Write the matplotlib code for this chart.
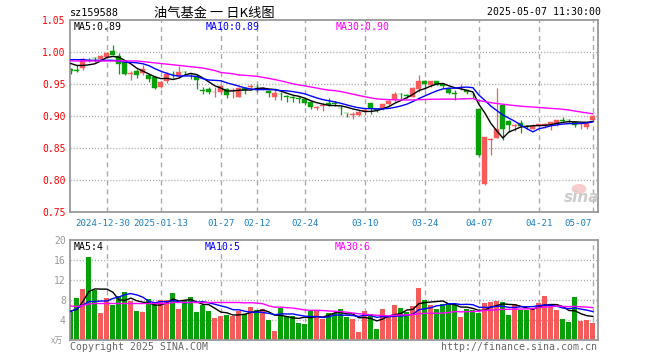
import numpy as np
import matplotlib
matplotlib.use('Agg')
import matplotlib.pyplot as plt
from matplotlib.patches import Ellipse

plt.rcParams['font.family'] = ['DejaVu Sans Mono', 'Noto Sans CJK SC']

# daily candles, 2024-12-20 .. 2025-05-07
opens = [0.974, 0.972, 0.975, 0.988, 0.991, 0.989, 0.992, 1.002, 0.994, 0.984,
         0.966, 0.971, 0.967, 0.964, 0.961, 0.945, 0.954, 0.966, 0.963, 0.969,
         0.966, 0.963, 0.940, 0.942, 0.937, 0.938, 0.942, 0.939, 0.930, 0.943,
         0.946, 0.946, 0.942, 0.939, 0.929, 0.935, 0.932, 0.929, 0.928, 0.926,
         0.922, 0.913, 0.916, 0.921, 0.920, 0.913, 0.905, 0.902, 0.902, 0.908,
         0.921, 0.911, 0.913, 0.918, 0.925, 0.935, 0.933, 0.930, 0.942, 0.955,
         0.949, 0.954, 0.950, 0.942, 0.936, 0.944, 0.940, 0.935, 0.911, 0.794,
         0.862, 0.866, 0.917, 0.892, 0.885, 0.889, 0.884, 0.880, 0.886, 0.884,
         0.886, 0.888, 0.893, 0.894, 0.891, 0.887, 0.883, 0.894]
highs = [0.975, 0.980, 0.990, 0.990, 0.992, 0.996, 1.000, 1.011, 0.998, 0.985,
         0.970, 0.973, 0.980, 0.966, 0.963, 0.955, 0.968, 0.971, 0.978, 0.971,
         0.967, 0.966, 0.946, 0.946, 0.946, 0.949, 0.944, 0.943, 0.946, 0.946,
         0.950, 0.950, 0.945, 0.940, 0.944, 0.938, 0.933, 0.931, 0.930, 0.930,
         0.924, 0.916, 0.921, 0.928, 0.923, 0.915, 0.905, 0.907, 0.910, 0.912,
         0.921, 0.913, 0.918, 0.926, 0.938, 0.936, 0.935, 0.945, 0.964, 0.957,
         0.955, 0.955, 0.951, 0.944, 0.940, 0.950, 0.941, 0.938, 0.911, 0.867,
         0.865, 0.943, 0.917, 0.893, 0.887, 0.894, 0.886, 0.887, 0.888, 0.889,
         0.891, 0.894, 0.899, 0.895, 0.892, 0.889, 0.892, 0.901]
lows = [0.965, 0.969, 0.972, 0.985, 0.985, 0.988, 0.991, 0.995, 0.965, 0.964,
        0.956, 0.960, 0.964, 0.953, 0.942, 0.943, 0.952, 0.960, 0.962, 0.963,
        0.958, 0.942, 0.934, 0.935, 0.929, 0.934, 0.928, 0.928, 0.929, 0.935,
        0.941, 0.938, 0.941, 0.930, 0.925, 0.925, 0.922, 0.922, 0.920, 0.917,
        0.911, 0.910, 0.908, 0.916, 0.915, 0.902, 0.898, 0.895, 0.900, 0.902,
        0.903, 0.907, 0.909, 0.917, 0.922, 0.927, 0.928, 0.929, 0.938, 0.942,
        0.946, 0.948, 0.944, 0.934, 0.925, 0.941, 0.934, 0.928, 0.837, 0.792,
        0.839, 0.865, 0.862, 0.875, 0.877, 0.874, 0.879, 0.879, 0.881, 0.882,
        0.878, 0.885, 0.890, 0.889, 0.883, 0.880, 0.880, 0.893]
closes = [0.971, 0.971, 0.989, 0.987, 0.990, 0.994, 0.998, 0.996, 0.981, 0.965,
          0.967, 0.964, 0.974, 0.958, 0.943, 0.953, 0.966, 0.965, 0.969, 0.968,
          0.965, 0.956, 0.939, 0.938, 0.938, 0.947, 0.933, 0.940, 0.943, 0.940,
          0.947, 0.945, 0.943, 0.936, 0.936, 0.934, 0.929, 0.928, 0.927, 0.921,
          0.914, 0.914, 0.917, 0.917, 0.919, 0.912, 0.904, 0.903, 0.907, 0.909,
          0.913, 0.910, 0.918, 0.924, 0.935, 0.934, 0.932, 0.944, 0.954, 0.950,
          0.954, 0.949, 0.947, 0.936, 0.935, 0.945, 0.938, 0.934, 0.839, 0.867,
          0.864, 0.879, 0.879, 0.886, 0.886, 0.885, 0.883, 0.884, 0.887, 0.888,
          0.890, 0.893, 0.892, 0.893, 0.886, 0.888, 0.891, 0.900]
# volume, 10k units
volumes = [5.7, 8.5, 10.2, 16.6, 10.1, 5.5, 8.5, 7.1, 8.9, 9.6,
           7.8, 5.8, 5.7, 8.2, 7.3, 8.0, 8.0, 9.5, 6.2, 8.1,
           8.6, 5.7, 7.1, 5.8, 4.5, 4.8, 5.0, 4.9, 5.9, 5.2,
           6.6, 6.1, 6.2, 4.0, 1.9, 6.5, 4.8, 4.9, 3.5, 3.2,
           5.9, 6.0, 4.3, 5.5, 5.5, 6.2, 4.6, 4.2, 1.7, 5.8,
           5.2, 2.2, 6.2, 4.7, 7.0, 6.4, 5.7, 6.8, 10.5, 8.0,
           7.0, 6.2, 7.3, 7.5, 7.3, 4.6, 6.2, 6.0, 5.5, 7.5,
           7.7, 7.8, 7.6, 5.0, 7.2, 6.1, 6.1, 6.3, 7.5, 8.9,
           6.7, 6.0, 4.2, 3.7, 8.6, 3.8, 4.0, 3.5]

# moving-average values at the left edge (they depend on days before the window)
ma5_head = [0.982, 0.979, 0.979, 0.980]
ma10_head = [0.988, 0.988, 0.988, 0.987, 0.987, 0.987, 0.987, 0.987, 0.986]
ma30_head = [0.986, 0.986, 0.986, 0.986, 0.986, 0.986, 0.986, 0.986, 0.986, 0.986,
             0.986, 0.986, 0.985, 0.984, 0.983, 0.982, 0.981, 0.980, 0.979, 0.978,
             0.977, 0.976, 0.975, 0.973, 0.971, 0.968, 0.967, 0.966, 0.964]
vma5_head = [5.8, 6.1, 7.7, 9.7]
vma10_head = [5.7, 6.3, 7.0, 7.7, 7.7, 7.8, 7.8, 8.3, 8.6]
vma30_head = [6.8, 6.7, 6.9, 7.2, 7.3, 7.3, 7.3, 7.3, 7.3, 7.3,
              7.3, 7.3, 7.3, 7.3, 7.3, 7.3, 7.3, 7.5, 7.5, 7.5,
              7.5, 7.5, 7.5, 7.5, 7.5, 7.5, 7.5, 7.5, 7.5]

date_idx = [6, 15, 25, 31, 39, 49, 59, 68, 78, 87]
date_labels = ['2024-12-30', '2025-01-13', '01-27', '02-12', '02-24',
               '03-10', '03-24', '04-07', '04-21', '05-07']
price_ticks = [0.75, 0.80, 0.85, 0.90, 0.95, 1.00, 1.05]
vol_ticks = [4, 8, 12, 16, 20]

RED = '#f65b5b'
GREEN = '#08a008'
GRID = '#aaaaaa'
FRAME = '#999999'


def moving_avg(vals, n, head):
    out = list(head)
    for i in range(len(head), len(vals)):
        out.append(np.mean(vals[i - n + 1:i + 1]))
    return out


o = np.array(opens)
h = np.array(highs)
l = np.array(lows)
c = np.array(closes)
v = np.array(volumes)
x = np.arange(len(c))
cols = np.where(c >= o, RED, GREEN)

W, H = 660, 360
fig = plt.figure(figsize=(6.6, 3.6), dpi=100)
ax = fig.add_axes([70 / W, 1 - 212 / H, 528 / W, 192 / H])
axv = fig.add_axes([70 / W, 1 - 340 / H, 528 / W, 100 / H])

for a in (ax, axv):
    a.set_xlim(-0.15, 87.85)
    a.set_xticks([])
    for d in date_idx:
        a.axvline(d, color=GRID, lw=1, ls=(0, (3.6, 2.9)), zorder=0)
    for s in a.spines.values():
        s.set_color(FRAME)
        s.set_linewidth(1.3)
    a.tick_params(axis='y', length=0, pad=3, labelsize=7)

# price panel
ax.set_ylim(0.75, 1.05)
ax.set_yticks(price_ticks)
ax.set_yticklabels(['%.2f' % t for t in price_ticks])
ax.tick_params(axis='y', labelcolor='#ff0000')
for t in price_ticks[1:-1]:
    ax.axhline(t, color=GRID, lw=1, ls=(0, (0.8, 1.4)), zorder=0)

ax.vlines(x, l, h, colors=cols, lw=0.9, zorder=2)
ax.bar(x, np.maximum(np.abs(c - o), 0.0006), bottom=np.minimum(o, c), width=0.82,
       color=cols, edgecolor=cols, linewidth=0.3, zorder=2)
ax.plot(x, moving_avg(c, 5, ma5_head), color='black', lw=1, zorder=3)
ax.plot(x, moving_avg(c, 10, ma10_head), color='#0000ff', lw=1, zorder=3)
ax.plot(x, moving_avg(c, 30, ma30_head), color='#ff00ff', lw=1, zorder=3)

# date labels between the panels
for d, lab in zip(date_idx, date_labels):
    dx, ha = 0, 'center'
    if d == date_idx[0]:
        dx = -4
    if d == date_idx[-1]:
        dx, ha = -1, 'right'
    ax.annotate(lab, xy=(d, 0), xycoords=('data', 'axes fraction'),
                xytext=(dx, -11), textcoords='offset pixels',
                ha=ha, va='center', fontsize=6.6, color='#1a80c8')

# volume panel
axv.set_ylim(0, 20)
axv.set_yticks(vol_ticks)
axv.tick_params(axis='y', labelcolor=FRAME)
for t in vol_ticks[:-1]:
    axv.axhline(t, color=GRID, lw=1, ls=(0, (0.8, 1.4)), zorder=0)
axv.bar(x, v, width=0.82, color=cols, linewidth=0, zorder=2)
axv.plot(x, moving_avg(v, 5, vma5_head), color='black', lw=1, zorder=3)
axv.plot(x, moving_avg(v, 10, vma10_head), color='#0000ff', lw=1, zorder=3)
axv.plot(x, moving_avg(v, 30, vma30_head), color='#ff00ff', lw=1, zorder=3)


def px(xp, yp):
    return xp / W, 1 - yp / H


# header
fig.text(*px(70, 13), 'sz159588', fontsize=7.3, va='center', ha='left')
fig.text(*px(214, 13), '油气基金 一 日K线图', fontsize=9.5, va='center', ha='center',
         family=['Noto Sans CJK SC', 'DejaVu Sans'])
fig.text(*px(601, 12), '2025-05-07 11:30:00', fontsize=7.1, va='center', ha='right')

# legends
fig.text(*px(74, 27), 'MA5:0.89', fontsize=7.1, va='center', color='black')
fig.text(*px(206, 27), 'MA10:0.89', fontsize=7.1, va='center', color='#0000ff')
fig.text(*px(336, 27), 'MA30:0.90', fontsize=7.1, va='center', color='#ff00ff')
fig.text(*px(74, 247), 'MA5:4', fontsize=7.1, va='center', color='black')
fig.text(*px(205, 247), 'MA10:5', fontsize=7.1, va='center', color='#0000ff')
fig.text(*px(335, 247), 'MA30:6', fontsize=7.1, va='center', color='#ff00ff')

# watermark
fig.patches.append(Ellipse(px(579, 189), 15 / W, 10 / H, transform=fig.transFigure,
                           facecolor='#f6cccc', edgecolor='none', zorder=5))
fig.text(*px(582, 197), 'sina', fontsize=11, fontweight='bold', style='italic',
         color='#cccccc', va='center', ha='center', family='DejaVu Sans', zorder=6)

# footer
fig.text(*px(63, 340), 'x万', fontsize=6, va='center', ha='right', color=FRAME,
         family=['Noto Sans CJK SC', 'DejaVu Sans'])
fig.text(*px(70, 347), 'Copyright 2025 SINA.COM', fontsize=7.1, va='center', color='#666666')
fig.text(*px(597, 347), 'http://finance.sina.com.cn', fontsize=7.1, va='center',
         ha='right', color='#666666')

fig.savefig('out.png', dpi=100)
